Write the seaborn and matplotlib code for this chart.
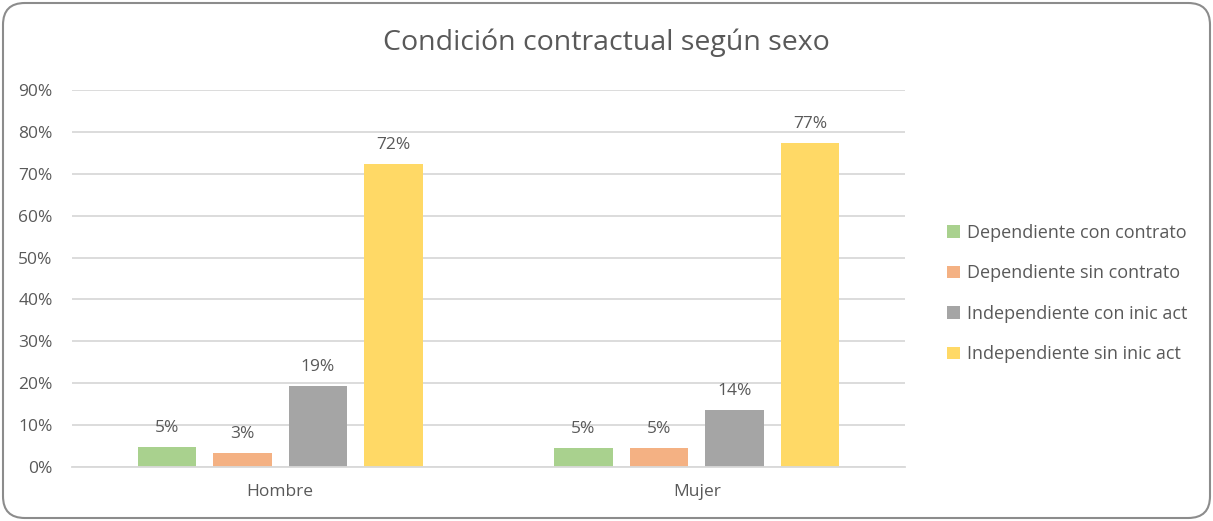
import matplotlib
matplotlib.use("Agg")
import matplotlib.pyplot as plt
import seaborn as sns
import pandas as pd
from matplotlib.patches import FancyBboxPatch
from matplotlib.ticker import PercentFormatter

# datos
sexos = ["Hombre", "Mujer"]
condiciones = ["Dependiente con contrato", "Dependiente sin contrato",
               "Independiente con inic act", "Independiente sin inic act"]
hombre = [0.048, 0.033, 0.194, 0.724]
mujer = [0.046, 0.046, 0.136, 0.774]
colores = ["#A9D18E", "#F4B183", "#A5A5A5", "#FFD966"]

filas = []
for c, h, m in zip(condiciones, hombre, mujer):
    filas.append({"sexo": "Hombre", "condicion": c, "valor": h})
    filas.append({"sexo": "Mujer", "condicion": c, "valor": m})
df = pd.DataFrame(filas)

sns.set_style("white")
plt.rcParams['font.family'] = ['Open Sans', 'DejaVu Sans']
gris_texto = "#595959"

fig = plt.figure(figsize=(12.13, 5.21), dpi=100)
ax = fig.add_axes([72 / 1213, 1 - 467 / 521, (905 - 72) / 1213, (467 - 90) / 521])

sns.barplot(data=df, x="sexo", y="valor", hue="condicion", order=sexos,
            hue_order=condiciones, palette=colores, width=0.725, gap=0.22,
            saturation=1, linewidth=0, ax=ax)

for cont in ax.containers:
    ax.bar_label(cont, labels=[f"{b.get_height():.0%}" for b in cont],
                 padding=8, fontsize=12.5, color=gris_texto)

ax.set_ylim(0, 0.9)
ax.set_yticks([i / 10 for i in range(10)])
ax.yaxis.set_major_formatter(PercentFormatter(1.0, decimals=0))
ax.yaxis.grid(True, color="#D9D9D9", linewidth=1.3)
ax.set_axisbelow(True)
for s in ["top", "right", "left"]:
    ax.spines[s].set_visible(False)
ax.spines["bottom"].set_color("#D9D9D9")
ax.spines["bottom"].set_linewidth(1.3)
ax.tick_params(axis="both", length=0, labelsize=12.5, colors=gris_texto)
ax.tick_params(axis="y", pad=14)
ax.tick_params(axis="x", pad=12)
ax.set_xlabel("")
ax.set_ylabel("")

ax.legend_.remove()
h, l = ax.get_legend_handles_labels()
fig.legend(h, l, loc="center left", bbox_to_anchor=(938 / 1213, 1 - 293.5 / 521),
           frameon=False, fontsize=13, labelcolor=gris_texto, handlelength=0.7,
           handleheight=0.7, handletextpad=0.4, labelspacing=1.25, borderpad=0)

fig.text(0.5, 1 - 43 / 521, "Condición contractual según sexo", ha="center",
         va="center", fontsize=20.5, color=gris_texto)

borde = FancyBboxPatch((3 / 1213, 3 / 521), 1 - 6 / 1213, 1 - 6 / 521,
                       boxstyle="round,pad=0,rounding_size=0.018",
                       transform=fig.transFigure, facecolor="none",
                       edgecolor="#8C8C8C", linewidth=1.5, mutation_aspect=1213 / 521)
fig.patches.append(borde)

fig.savefig("out.png", dpi=100)
